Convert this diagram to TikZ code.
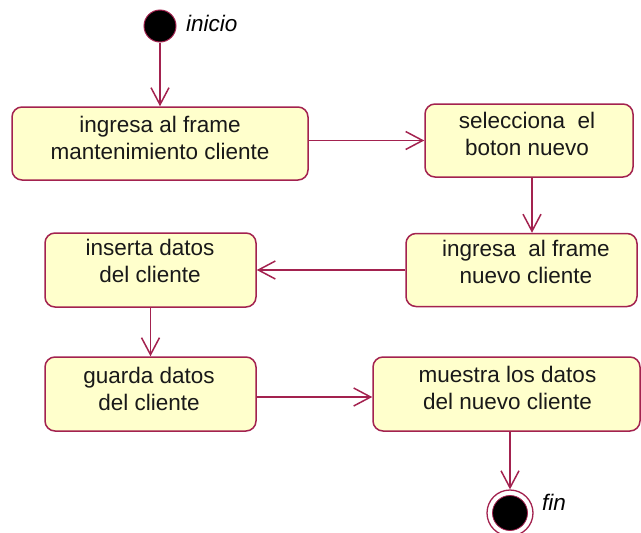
\documentclass[tikz,border=0pt]{standalone}
\usepackage{fontspec}
\setmainfont{Liberation Sans}
\usetikzlibrary{arrows.meta,calc}
\definecolor{umlred}{HTML}{A3224F}
\definecolor{umlfill}{HTML}{FFFFCC}
\begin{document}
\begin{tikzpicture}[x=1pt,y=-1pt,
  act/.style={draw=umlred, line width=1.5pt, fill=umlfill, rounded corners=10pt, inner sep=0},
  txt/.style={font=\fontsize{22.5}{27}\selectfont, align=center, text=black!90, inner sep=0},
  lbl/.style={font=\fontsize{22.5}{27}\selectfont\itshape, text=black, inner sep=0, anchor=west},
  arr/.style={draw=umlred, line width=1.5pt, -{Straight Barb[length=17pt,width=18pt]}}]
\useasboundingbox (0,0) rectangle (641,533);
% start
\node[circle, fill=black, draw=umlred, line width=1pt, minimum size=32pt, inner sep=0] (s) at (160,26) {};
\node[lbl] (ls) at (186,23) {inicio};
% boxes
\node[act, minimum width=296pt, minimum height=73pt] (b1) at (160,143.5) {};
\node[txt] (t1) at (160,137.5) {ingresa al frame\\mantenimiento cliente};
\node[act, minimum width=208pt, minimum height=73pt] (b2) at (529,140.5) {};
\node[txt] (t2) at (527,134) {selecciona~~el\\boton nuevo};
\node[act, minimum width=231pt, minimum height=73pt] (b3) at (521.5,270) {};
\node[txt] (t3) at (526,262) {ingresa~~al frame\\nuevo cliente};
\node[act, minimum width=211pt, minimum height=74pt] (b4) at (150.5,270) {};
\node[txt] (t4) at (150,261) {inserta datos\\del cliente};
\node[act, minimum width=211pt, minimum height=74pt] (b5) at (150.5,394) {};
\node[txt] (t5) at (149,388.5) {guarda datos\\del cliente};
\node[act, minimum width=267pt, minimum height=74pt] (b6) at (506.5,394) {};
\node[txt] (t6) at (507.5,387.5) {muestra los datos\\del nuevo cliente};
% end
\node[circle, draw=umlred, line width=1.3pt, fill=white, minimum size=46pt, inner sep=0] (e) at (510,513) {};
\node[circle, fill=black, draw=umlred, line width=0.8pt, minimum size=35pt, inner sep=0] (ei) at (e) {};
\node[lbl] (le) at (542,502) {fin};
% connectors
\coordinate (ax) at (532,0);
\draw[arr] (s.south) -- (b1.north);
\draw[arr] (b1.east |- b2.west) -- (b2.west);
\draw[arr] (b2.south -| ax) -- (b3.north -| ax);
\draw[arr] (b3.west) -- (b4.east);
\draw[arr] (b4.south) -- (b5.north);
\draw[arr] ([yshift=-3pt]b5.east) -- ([yshift=-3pt]b5.east -| b6.west);
\draw[arr] (b6.south -| e) -- (e.north);
\end{tikzpicture}
\end{document}
